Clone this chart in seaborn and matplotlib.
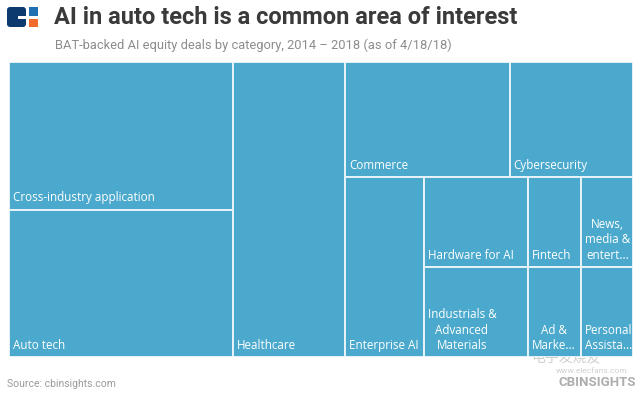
import matplotlib.pyplot as plt
import seaborn as sns
from matplotlib.patches import Rectangle, FancyBboxPatch

# deal counts per category
categories = ["Cross-industry application", "Auto tech", "Healthcare", "Commerce",
              "Cybersecurity", "Enterprise AI", "Hardware for AI",
              "Industrials & Advanced Materials", "Fintech",
              "News, media & entertainment", "Ad & Marketing", "Personal Assistants"]
deals = [7, 7, 7, 4, 3, 3, 2, 2, 1, 1, 1, 1]
# labels as they are shown inside the cells (wrapped / cut)
cell_labels = ["Cross-industry application", "Auto tech", "Healthcare", "Commerce",
               "Cybersecurity", "Enterprise AI", "Hardware for AI",
               "Industrials &\nAdvanced\nMaterials", "Fintech",
               "News,\nmedia &\nentert...", "Ad &\nMarke...", "Personal\nAssista..."]

# nesting of the treemap: "h" = side by side, "v" = stacked
tree = ("h", [("v", [0, 1]), 2,
              ("v", [("h", [3, 4]),
                     ("h", [5, ("v", [6, 7]),
                            ("v", [("h", [8, 9]), ("h", [10, 11])])])])])


def total(node):
    if isinstance(node, int):
        return deals[node]
    return sum(total(c) for c in node[1])


def layout(node, x, y, w, h, out):
    if isinstance(node, int):
        out[node] = (x, y, w, h)
        return
    d, kids = node
    s = total(node)
    for k in kids:
        f = total(k) / s
        if d == "h":
            layout(k, x, y, w * f, h, out)
            x += w * f
        else:
            layout(k, x, y, w, h * f, out)
            y += h * f


W, H = 624, 295
rects = {}
layout(tree, 0, 0, W, H, rects)

sns.set_theme(style="white")
plt.rcParams['font.family'] = ['Roboto', 'DejaVu Sans']

fig = plt.figure(figsize=(6.4, 3.93), dpi=100)
fig.patch.set_facecolor("white")

# treemap axes in pixel positions of the reference
ax = fig.add_axes([9 / 640, 1 - 357 / 393, 624 / 640, 295 / 393])
fill = "#4aa9cc"
for i in range(len(deals)):
    x, y, w, h = rects[i]
    ax.bar(x, h, width=w, bottom=y, align="edge", color=fill,
           edgecolor="#e8f4f8", linewidth=1.4)
    ax.text(x + 4, y + h - 5, cell_labels[i], color="white", fontsize=8.4,
            family=["Open Sans", "DejaVu Sans"], ha="left", va="bottom",
            multialignment="center", linespacing=1.25)
ax.set_xlim(0, W)
ax.set_ylim(H, 0)
ax.axis("off")

# overlay for header, logo and footer
top = fig.add_axes([0, 0, 1, 1], zorder=-1)
top.set_xlim(0, 640)
top.set_ylim(393, 0)
top.axis("off")

top.add_patch(FancyBboxPatch((7, 7), 19, 20, boxstyle="round,pad=0,rounding_size=3",
                             color="#0d3a6e", lw=0))
top.add_patch(Rectangle((18, 16), 9, 2.5, color="white", lw=0))
top.add_patch(Rectangle((29, 7), 9, 9, color="#1f6fb2", lw=0))
top.add_patch(Rectangle((29, 18.5), 9, 8.5, color="#f26b2d", lw=0))

top.text(54, 17, "AI in auto tech is a common area of interest", fontsize=17,
         fontweight="bold", color="#3a3a3a", va="center", ha="left")
top.text(55, 45, "BAT-backed AI equity deals by category, 2014 \u2013 2018 (as of 4/18/18)",
         fontsize=9.3, color="#8c8c8c", va="center", ha="left")
top.text(7, 384, "Source: cbinsights.com", fontsize=7.5, color="#9a9a9a",
         va="center", ha="left")

# watermarks in the lower right corner
top.text(636, 383, "CBINSIGHTS", fontsize=9.5, color="#9a9a9a", alpha=0.8,
         fontweight="bold", va="center", ha="right")
top.text(566, 357, "电子发烧友", fontsize=10, color="#bbbbbb", alpha=0.7,
         family=["Noto Sans CJK SC", "DejaVu Sans"], va="center", ha="center",
         zorder=5)
top.text(592, 371, "www.elecfans.com", fontsize=6, color="#bbbbbb", alpha=0.7,
         va="center", ha="center")

fig.savefig("out.png", dpi=100)
